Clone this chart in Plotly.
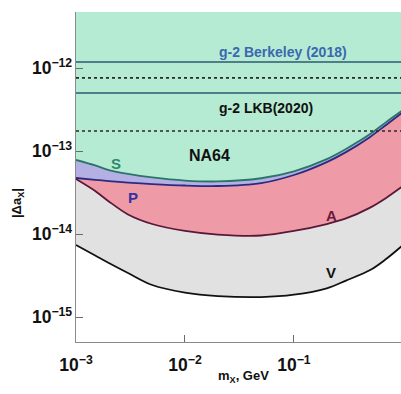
import numpy as np
import plotly.graph_objects as go

# ---- data ----
mass = [0.001, 0.0015, 0.002, 0.003, 0.005, 0.01, 0.02, 0.05, 0.1, 0.2, 0.3, 0.5, 0.7, 1.0]
s_lim = [7.8e-14, 6.7e-14, 5.9e-14, 5.3e-14, 4.8e-14, 4.4e-14, 4.3e-14, 4.7e-14, 5.7e-14,
         8.0e-14, 1.06e-13, 1.6e-13, 2.23e-13, 3.12e-13]
p_lim = [4.73e-14, 4.5e-14, 4.35e-14, 4.17e-14, 4.0e-14, 3.84e-14, 3.79e-14, 4.11e-14, 5.14e-14,
         7.36e-14, 9.7e-14, 1.48e-13, 2.06e-13, 2.95e-13]
a_lim = [4.6e-14, 3.3e-14, 2.47e-14, 1.72e-14, 1.32e-14, 1.09e-14, 9.86e-15, 9.6e-15, 1.09e-14,
         1.32e-14, 1.54e-14, 2.08e-14, 2.72e-14, 3.79e-14]
v_lim = [7.36e-15, 5.5e-15, 4.47e-15, 3.39e-15, 2.43e-15, 1.97e-15, 1.79e-15, 1.74e-15, 1.86e-15,
         2.22e-15, 2.75e-15, 3.68e-15, 5.0e-15, 7.36e-15]
top_level = 1e-11

berkeley_solid = 1.18e-12
berkeley_dotted = 7.6e-13
lkb_solid = 5.0e-13
lkb_dotted = 1.74e-13

labels = [
    # text, mass, value, color, size
    ("g-2 Berkeley (2018)", 0.079, 1.54e-12, "#3b68b0", 14),
    ("g-2 LKB(2020)", 0.055, 3.3e-13, "#111111", 14),
    ("NA64", 0.0168, 8.83e-14, "#111111", 16),
    ("S", 0.00233, 7.16e-14, "#2e8a6c", 15),
    ("P", 0.00333, 2.72e-14, "#3333a0", 15),
    ("A", 0.223, 1.69e-14, "#6a1a3c", 15),
    ("V", 0.218, 3.48e-15, "#111111", 15),
]

x_range = [-3.0, -0.018]
y_range = [-15.301, -11.325]

FONT = "Liberation Sans, Arial, Helvetica, sans-serif"

fig = go.Figure()

fig.add_trace(go.Scatter(x=mass, y=[top_level] * len(mass), mode="lines",
                         line=dict(width=0, color="rgba(0,0,0,0)"), hoverinfo="skip",
                         showlegend=False))
fig.add_trace(go.Scatter(x=mass, y=s_lim, mode="lines", fill="tonexty",
                         fillcolor="#b5ebd2", line=dict(color="#2a7468", width=1.8, shape="spline", smoothing=0.8),
                         showlegend=False))
fig.add_trace(go.Scatter(x=mass, y=p_lim, mode="lines", fill="tonexty",
                         fillcolor="#b4b0e4", line=dict(color="#2a2a82", width=1.8, shape="spline", smoothing=0.8),
                         showlegend=False))
fig.add_trace(go.Scatter(x=mass, y=a_lim, mode="lines", fill="tonexty",
                         fillcolor="#ee9ba7", line=dict(color="#5a1838", width=1.8, shape="spline", smoothing=0.8),
                         showlegend=False))
fig.add_trace(go.Scatter(x=mass, y=v_lim, mode="lines", fill="tonexty",
                         fillcolor="#e1e1e1", line=dict(color="#111111", width=1.8, shape="spline", smoothing=1.0),
                         showlegend=False))

xs_full = [mass[0], mass[-1]]
for val, dash, col in [(berkeley_solid, "solid", "#2b5a72"), (berkeley_dotted, "dot", "#2a2a2a"),
                       (lkb_solid, "solid", "#2b5a72"), (lkb_dotted, "dot", "#2a2a2a")]:
    fig.add_trace(go.Scatter(x=xs_full, y=[val, val], mode="lines",
                             line=dict(color=col, width=1.6, dash=dash), showlegend=False))

for text, mx, val, col, size in labels:
    fig.add_annotation(x=np.log10(mx), y=np.log10(val), text=text, showarrow=False,
                       font=dict(family=FONT, size=size, color=col, weight="bold"),
                       xanchor="center", yanchor="middle")

fig.add_annotation(xref="paper", yref="paper", x=0.514, y=-0.106, text="m<sub>X</sub>, GeV",
                   showarrow=False, font=dict(family=FONT, size=13, color="#111111", weight="bold"),
                   xanchor="center", yanchor="middle")
fig.add_annotation(xref="paper", yref="paper", x=-0.1815, y=0.421, text="|Δa<sub>X</sub>|",
                   showarrow=False, textangle=-90,
                   font=dict(family=FONT, size=13, color="#111111", weight="bold"),
                   xanchor="center", yanchor="middle")

axis_common = dict(
    type="log", dtick=1, exponentformat="power", showgrid=False, zeroline=False,
    showline=True, linecolor="#8a8a8a", linewidth=1,
    ticks="inside", ticklen=7, tickcolor="#6a6a6a", tickwidth=1.2,
    tickfont=dict(family=FONT, size=14, color="#111111", weight="bold"),
)

fig.update_xaxes(range=x_range, ticklabelstandoff=8, **axis_common)
fig.update_yaxes(range=y_range, **axis_common)

fig.update_layout(
    width=401, height=394,
    margin=dict(l=76, r=0, t=12, b=52),
    paper_bgcolor="white", plot_bgcolor="white",
    showlegend=False,
)

fig.write_html("out.html", config={"displayModeBar": False},
               post_script="document.body.style.margin='0';")
